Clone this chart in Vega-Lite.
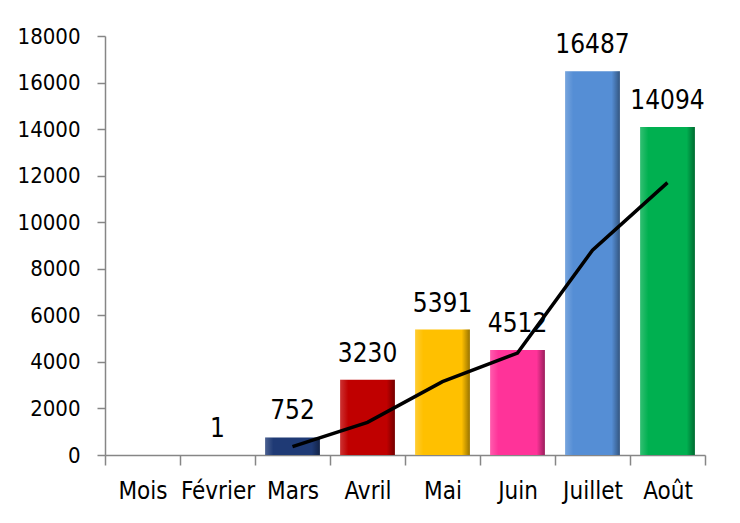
{
  "$schema": "https://vega.github.io/schema/vega-lite/v6.json",
  "width": 600,
  "height": 419,
  "autosize": {"type": "none"},
  "padding": {"left": 105, "top": 36, "right": 35, "bottom": 68},
  "background": "white",
  "config": {"view": {"stroke": null}, "font": "'DejaVu Sans Condensed', 'Liberation Sans Narrow', 'Roboto Condensed', Roboto, sans-serif"},
  "data": {
    "values": [
      {"mois": "Mois", "valeur": null, "moyenne": null},
      {"mois": "Février", "valeur": 1, "moyenne": null},
      {"mois": "Mars", "valeur": 752, "moyenne": 360},
      {"mois": "Avril", "valeur": 3230, "moyenne": 1400},
      {"mois": "Mai", "valeur": 5391, "moyenne": 3150},
      {"mois": "Juin", "valeur": 4512, "moyenne": 4380},
      {"mois": "Juillet", "valeur": 16487, "moyenne": 8800},
      {"mois": "Août", "valeur": 14094, "moyenne": 11700}
    ]
  },
  "encoding": {
    "x": {
      "field": "mois",
      "type": "nominal",
      "sort": null,
      "scale": {
        "domain": ["Mois", "Février", "Mars", "Avril", "Mai", "Juin", "Juillet", "Août"],
        "paddingInner": 0,
        "paddingOuter": 0
      },
      "axis": {
        "title": null,
        "labelAngle": 0,
        "labelFontSize": 24,
        "labelColor": "#000000",
        "labelPadding": 14,
        "domainColor": "#868686",
        "domainWidth": 1.5,
        "tickColor": "#868686",
        "tickWidth": 1.5,
        "tickSize": 10,
        "tickBand": "extent",
        "grid": false
      }
    }
  },
  "layer": [
    {
      "mark": {"type": "bar", "width": {"band": 0.73}},
      "encoding": {
        "y": {
          "field": "valeur",
          "type": "quantitative",
          "scale": {"domain": [0, 18000]},
          "axis": {
            "title": null,
            "values": [0, 2000, 4000, 6000, 8000, 10000, 12000, 14000, 16000, 18000],
            "format": "d",
            "grid": false,
            "labelFontSize": 22,
            "labelColor": "#000000",
            "labelPadding": 17,
            "domainColor": "#868686",
            "domainWidth": 1.5,
            "tickColor": "#868686",
            "tickWidth": 1.5,
            "tickSize": 8
          }
        },
        "color": {
          "field": "mois",
          "type": "nominal",
          "legend": null,
          "scale": {
            "domain": ["Mois", "Février", "Mars", "Avril", "Mai", "Juin", "Juillet", "Août"],
            "range": ["#ffffff", "#4F81BD", "#1F3A75", "#C00000", "#FFC000", "#FF3399", "#558ED5", "#00B050"]
          }
        }
      }
    },
    {
      "mark": {
        "type": "bar",
        "width": {"band": 0.73},
        "fill": {
          "gradient": "linear",
          "x1": 0, "x2": 1, "y1": 0, "y2": 0,
          "stops": [
            {"offset": 0, "color": "rgba(255,255,255,0.2)"},
            {"offset": 0.15, "color": "rgba(255,255,255,0)"},
            {"offset": 0.85, "color": "rgba(0,0,0,0)"},
            {"offset": 1, "color": "rgba(0,0,0,0.4)"}
          ]
        }
      },
      "encoding": {
        "y": {"field": "valeur", "type": "quantitative"}
      }
    },
    {
      "mark": {"type": "text", "dy": -18, "baseline": "alphabetic", "fontSize": 26, "color": "#000000"},
      "encoding": {
        "y": {"field": "valeur", "type": "quantitative"},
        "text": {"field": "valeur", "type": "quantitative", "format": "d"}
      }
    },
    {
      "mark": {"type": "line", "color": "#000000", "strokeWidth": 3.5},
      "encoding": {
        "y": {"field": "moyenne", "type": "quantitative"}
      }
    }
  ]
}
